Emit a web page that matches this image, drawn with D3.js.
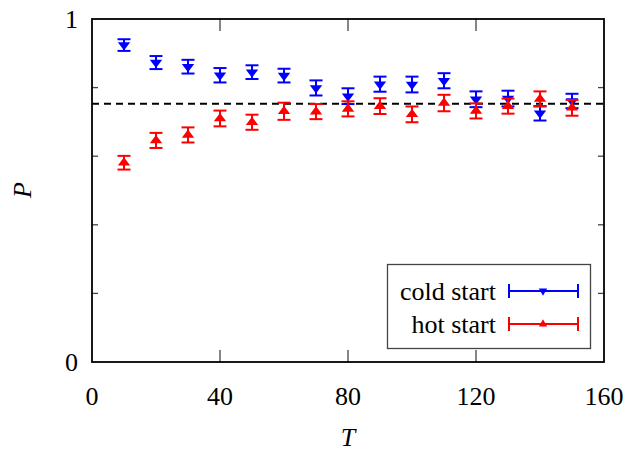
<!DOCTYPE html>
<html>
<head>
<meta charset="utf-8">
<script src="https://cdn.jsdelivr.net/npm/d3@7"></script>
<style>
  body { margin: 0; background: #fff; }
</style>
</head>
<body>
<svg id="chart" width="639" height="453"></svg>
<script>
// Data
const temps = [10, 20, 30, 40, 50, 60, 70, 80, 90, 100, 110, 120, 130, 140, 150];
const coldP = [0.924, 0.873, 0.861, 0.836, 0.845, 0.835, 0.799, 0.775, 0.810, 0.809, 0.820, 0.766, 0.768, 0.725, 0.761];
const coldErr = [0.017, 0.019, 0.020, 0.021, 0.020, 0.020, 0.022, 0.023, 0.022, 0.023, 0.022, 0.023, 0.023, 0.021, 0.021];
const hotP = [0.581, 0.646, 0.662, 0.710, 0.699, 0.731, 0.730, 0.738, 0.746, 0.722, 0.755, 0.732, 0.746, 0.767, 0.741];
const hotErr = [0.020, 0.022, 0.022, 0.023, 0.022, 0.025, 0.022, 0.022, 0.023, 0.023, 0.024, 0.022, 0.022, 0.022, 0.023];
const refLine = 0.753;
const xTicks = [0, 40, 80, 120, 160];
const yTicks = [0, 0.2, 0.4, 0.6, 0.8, 1];
const yTickLabels = { 0: '0', 1: '1' };

const W = 639, H = 453;
const margin = { top: 19, right: 35, bottom: 91, left: 92 };
const width = W - margin.left - margin.right;
const height = H - margin.top - margin.bottom;
const FONT = "'Liberation Serif', serif";

const svg = d3.select('#chart');
const g = svg.append('g').attr('transform', `translate(${margin.left},${margin.top})`);

const x = d3.scaleLinear().domain([0, 160]).range([0, width]);
const y = d3.scaleLinear().domain([0, 1]).range([height, 0]);

// Ticks (mirrored on all sides)
const tickG = g.append('g').attr('stroke', '#444').attr('stroke-width', 1.3);
xTicks.slice(1, -1).forEach(t => {
    tickG.append('line').attr('x1', x(t)).attr('x2', x(t)).attr('y1', height).attr('y2', height - 12);
    tickG.append('line').attr('x1', x(t)).attr('x2', x(t)).attr('y1', 0).attr('y2', 12);
});
yTicks.slice(1, -1).forEach(t => {
    tickG.append('line').attr('x1', 0).attr('x2', 6).attr('y1', y(t)).attr('y2', y(t));
    tickG.append('line').attr('x1', width).attr('x2', width - 6).attr('y1', y(t)).attr('y2', y(t));
});

// Tick labels
g.selectAll('.xlab').data(xTicks).enter().append('text')
    .attr('x', d => x(d)).attr('y', height + 43)
    .attr('text-anchor', 'middle')
    .attr('font-family', FONT).attr('font-size', 26)
    .text(d => d);
g.selectAll('.ylab').data(yTicks.filter(d => yTickLabels[d] !== undefined)).enter().append('text')
    .attr('x', -14).attr('y', d => y(d) + 9)
    .attr('text-anchor', 'end')
    .attr('font-family', FONT).attr('font-size', 26)
    .text(d => yTickLabels[d]);

// Axis titles
svg.append('text').attr('x', margin.left + width / 2).attr('y', 446)
    .attr('text-anchor', 'middle')
    .attr('font-family', FONT).attr('font-size', 26).attr('font-style', 'italic').text('T');
svg.append('text').attr('transform', `translate(31,190) rotate(-90)`)
    .attr('text-anchor', 'middle')
    .attr('font-family', FONT).attr('font-size', 26).attr('font-style', 'italic').text('P');

// Reference dashed line
g.append('line')
    .attr('x1', 0).attr('x2', width)
    .attr('y1', y(refLine)).attr('y2', y(refLine))
    .attr('stroke', '#000').attr('stroke-width', 2)
    .attr('stroke-dasharray', '7,5');

const tri = d3.symbol().type(d3.symbolTriangle).size(55);

function drawSeries(vals, errs, color, down) {
    const s = g.append('g');
    temps.forEach((t, i) => {
        const cx = x(t), cy = y(vals[i]);
        const y0 = y(vals[i] - errs[i]), y1 = y(vals[i] + errs[i]);
        s.append('line').attr('x1', cx).attr('x2', cx).attr('y1', y0).attr('y2', y1)
            .attr('stroke', color).attr('stroke-width', 2);
        [y0, y1].forEach(yy => s.append('line')
            .attr('x1', cx - 6.5).attr('x2', cx + 6.5).attr('y1', yy).attr('y2', yy)
            .attr('stroke', color).attr('stroke-width', 2));
        s.append('path').attr('d', tri())
            .attr('transform', `translate(${cx},${cy}) rotate(${down ? 180 : 0}) scale(1.1,0.85)`)
            .attr('fill', color);
    });
}
drawSeries(coldP, coldErr, '#0000ff', true);
drawSeries(hotP, hotErr, '#ff0000', false);

// Frame
g.append('rect').attr('x', 0).attr('y', 0).attr('width', width).attr('height', height)
    .attr('fill', 'none').attr('stroke', '#000').attr('stroke-width', 1.8);

// Legend
const legend = svg.append('g');
legend.append('rect').attr('x', 387.5).attr('y', 264.5).attr('width', 203).attr('height', 84)
    .attr('fill', '#fff').attr('stroke', '#444').attr('stroke-width', 1.3);
const legendItems = [
    { label: 'cold start', color: '#0000ff', down: true, y: 291 },
    { label: 'hot start', color: '#ff0000', down: false, y: 324 }
];
legendItems.forEach(it => {
    legend.append('text').attr('x', 496).attr('y', it.y + 9)
        .attr('text-anchor', 'end')
        .attr('font-family', FONT).attr('font-size', 26).text(it.label);
    legend.append('line').attr('x1', 509).attr('x2', 578).attr('y1', it.y).attr('y2', it.y)
        .attr('stroke', it.color).attr('stroke-width', 2);
    [509, 578].forEach(xx => legend.append('line')
        .attr('x1', xx).attr('x2', xx).attr('y1', it.y - 7).attr('y2', it.y + 7)
        .attr('stroke', it.color).attr('stroke-width', 2));
    legend.append('path').attr('d', d3.symbol().type(d3.symbolTriangle).size(30)())
        .attr('transform', `translate(543,${it.y}) rotate(${it.down ? 180 : 0})`)
        .attr('fill', it.color);
});
</script>
</body>
</html>
